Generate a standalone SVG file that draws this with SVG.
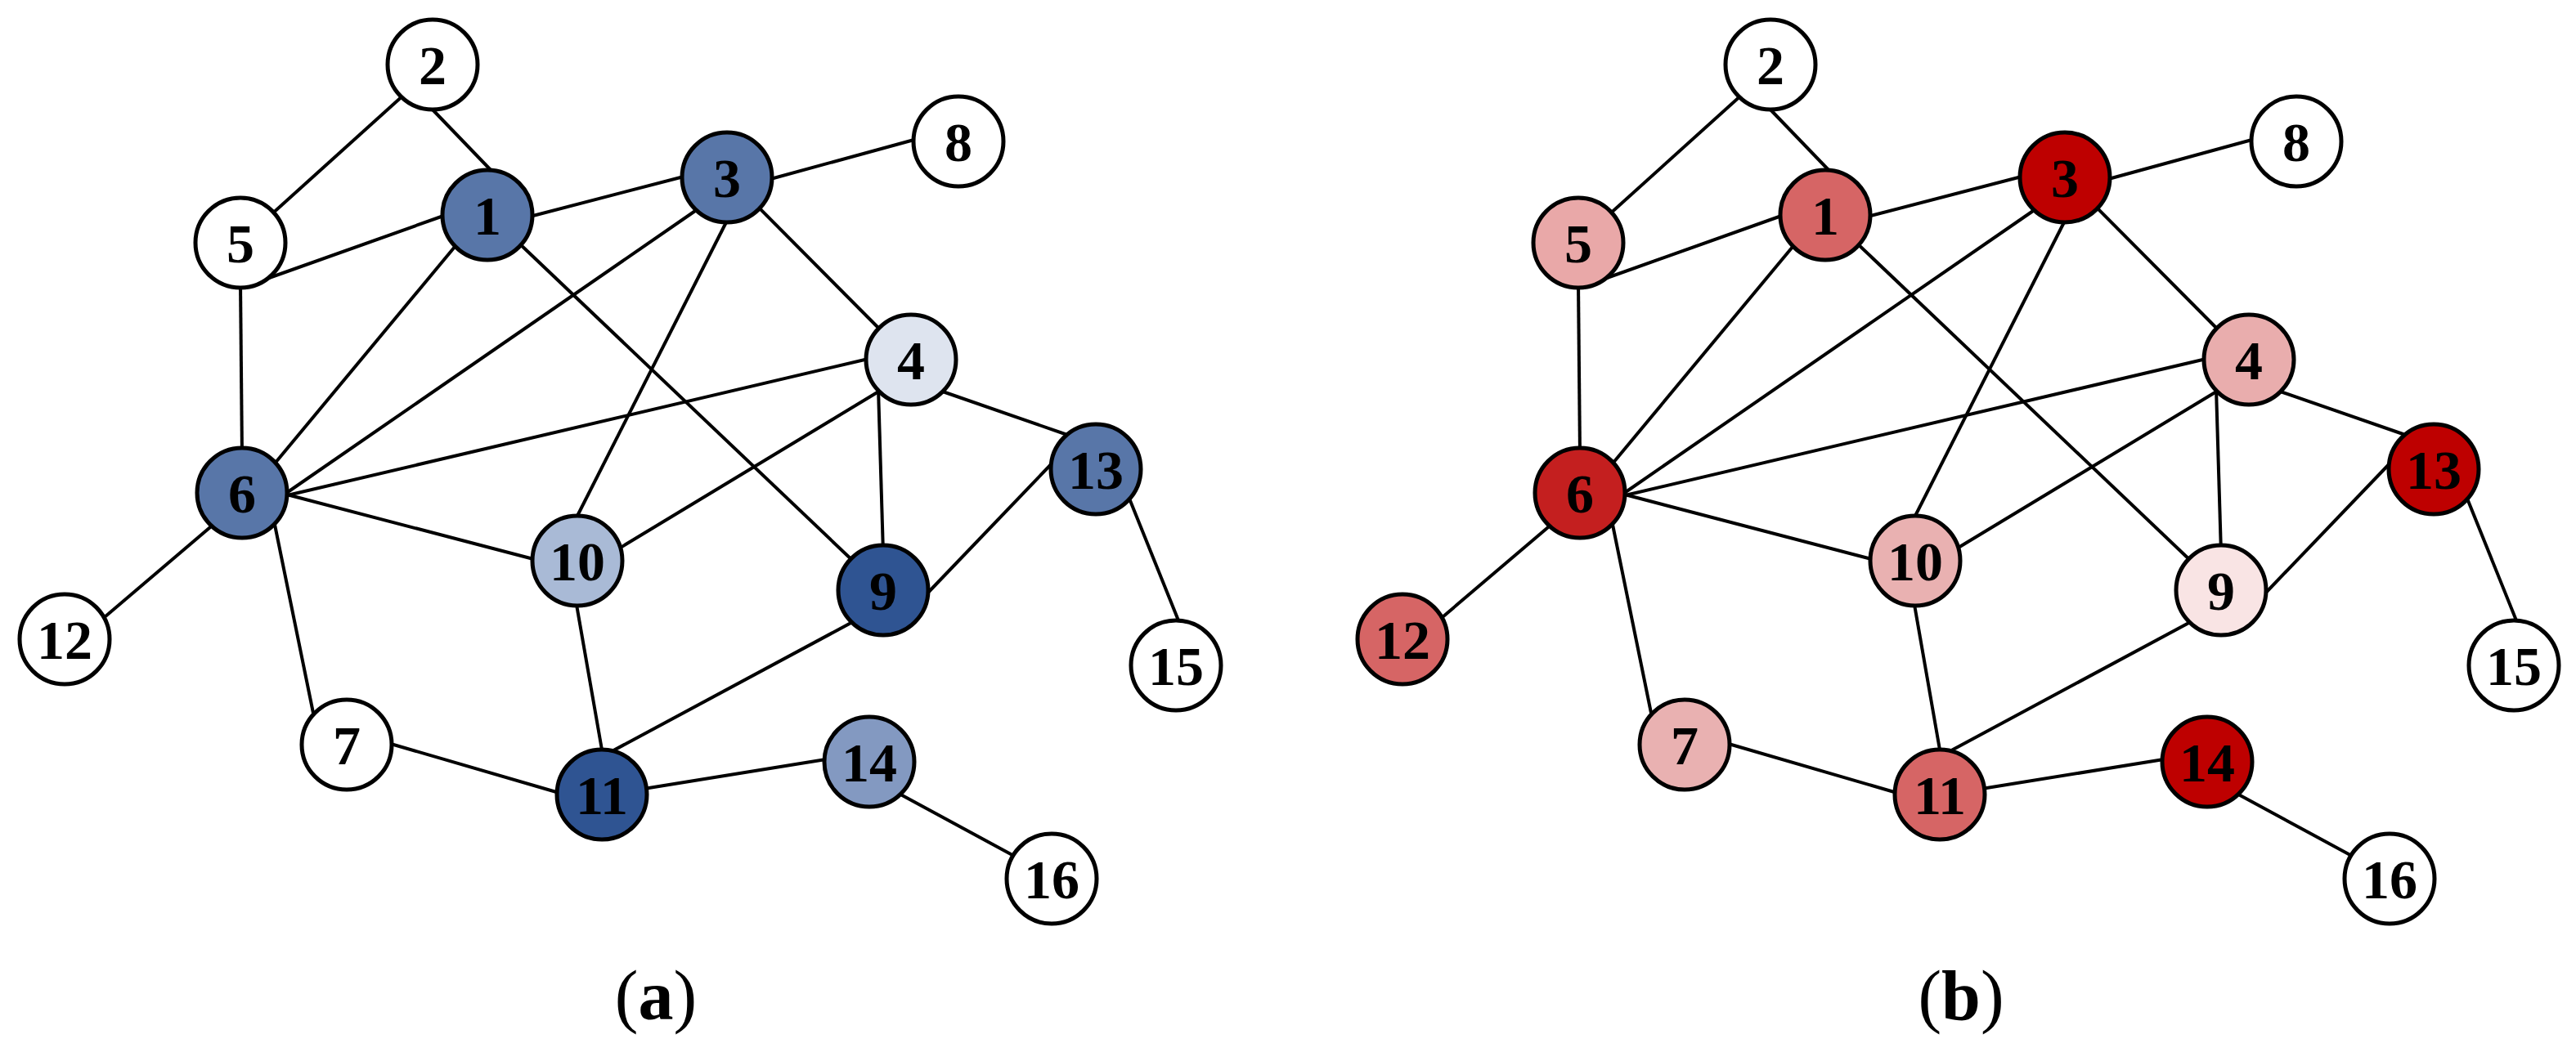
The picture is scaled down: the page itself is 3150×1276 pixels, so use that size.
<svg xmlns="http://www.w3.org/2000/svg" width="3150" height="1276" viewBox="0 0 3150 1276">
<style>
.e{stroke:#000;stroke-width:4;fill:none}
.n{stroke:#000;stroke-width:5}
.t{font-family:"Liberation Serif","Times New Roman",serif;font-weight:bold;font-size:68px;text-anchor:middle;fill:#000}
.cap{font-family:"Liberation Serif","Times New Roman",serif;font-size:86px;text-anchor:middle;fill:#000}
</style>
<defs>
<g id="edgeset">
<line x1="495" y1="115" x2="330" y2="264"/>
<line x1="525" y1="130" x2="602" y2="210"/>
<line x1="329" y1="340" x2="548" y2="262"/>
<line x1="294" y1="345" x2="296" y2="557"/>
<line x1="644" y1="266" x2="840" y2="215"/>
<line x1="935" y1="221" x2="1125" y2="169"/>
<line x1="561" y1="296" x2="331" y2="573"/>
<line x1="632" y1="295" x2="1046" y2="689"/>
<line x1="853" y1="256" x2="349" y2="604"/>
<line x1="890" y1="268" x2="703" y2="637"/>
<line x1="925" y1="251" x2="1079" y2="406"/>
<line x1="1066" y1="438" x2="347" y2="607"/>
<line x1="1081" y1="475" x2="752" y2="674"/>
<line x1="1074" y1="475" x2="1080" y2="677"/>
<line x1="1147" y1="477" x2="1311" y2="534"/>
<line x1="347" y1="604" x2="660" y2="686"/>
<line x1="263" y1="640" x2="122" y2="760"/>
<line x1="335" y1="637" x2="385" y2="882"/>
<line x1="704" y1="734" x2="737" y2="923"/>
<line x1="1131" y1="729" x2="1291" y2="562"/>
<line x1="1048" y1="758" x2="741" y2="923"/>
<line x1="471" y1="908" x2="694" y2="973"/>
<line x1="781" y1="966" x2="1016" y2="928"/>
<line x1="1094" y1="968" x2="1249" y2="1052"/>
<line x1="1379" y1="605" x2="1443" y2="764"/>
</g>
</defs>
<rect width="3150" height="1276" fill="#fff"/>
<g id="connectors" class="e">
<use href="#edgeset"/>
<use href="#edgeset" transform="translate(1636,0)"/>
</g>
<g id="a1"><circle class="n" cx="596" cy="263" r="55" fill="#5876A8"/><text class="t" x="596" y="287">1</text></g>
<g id="a2"><circle class="n" cx="529" cy="79" r="55" fill="#fff"/><text class="t" x="529" y="103">2</text></g>
<g id="a3"><circle class="n" cx="889" cy="217" r="55" fill="#5876A8"/><text class="t" x="889" y="241">3</text></g>
<g id="a4"><circle class="n" cx="1114" cy="440" r="55" fill="#DEE4EF"/><text class="t" x="1114" y="464">4</text></g>
<g id="a5"><circle class="n" cx="294" cy="297" r="55" fill="#fff"/><text class="t" x="294" y="321">5</text></g>
<g id="a6"><circle class="n" cx="296" cy="603" r="55" fill="#5876A8"/><text class="t" x="296" y="627">6</text></g>
<g id="a7"><circle class="n" cx="424" cy="911" r="55" fill="#fff"/><text class="t" x="424" y="935">7</text></g>
<g id="a8"><circle class="n" cx="1172" cy="173" r="55" fill="#fff"/><text class="t" x="1172" y="197">8</text></g>
<g id="a9"><circle class="n" cx="1080" cy="722" r="55" fill="#2F5492"/><text class="t" x="1080" y="746">9</text></g>
<g id="a10"><circle class="n" cx="706" cy="686" r="55" fill="#A9BAD6"/><text class="t" x="706" y="710">10</text></g>
<g id="a11"><circle class="n" cx="736" cy="972" r="55" fill="#2F5492"/><text class="t" x="736" y="996">11</text></g>
<g id="a12"><circle class="n" cx="79" cy="782" r="55" fill="#fff"/><text class="t" x="79" y="806">12</text></g>
<g id="a13"><circle class="n" cx="1340" cy="574" r="55" fill="#5876A8"/><text class="t" x="1340" y="598">13</text></g>
<g id="a14"><circle class="n" cx="1063" cy="932" r="55" fill="#8399C1"/><text class="t" x="1063" y="956">14</text></g>
<g id="a15"><circle class="n" cx="1438" cy="814" r="55" fill="#fff"/><text class="t" x="1438" y="838">15</text></g>
<g id="a16"><circle class="n" cx="1286" cy="1075" r="55" fill="#fff"/><text class="t" x="1286" y="1099">16</text></g>
<g id="b1"><circle class="n" cx="2232" cy="263" r="55" fill="#D66565"/><text class="t" x="2232" y="287">1</text></g>
<g id="b2"><circle class="n" cx="2165" cy="79" r="55" fill="#fff"/><text class="t" x="2165" y="103">2</text></g>
<g id="b3"><circle class="n" cx="2525" cy="217" r="55" fill="#BE0000"/><text class="t" x="2525" y="241">3</text></g>
<g id="b4"><circle class="n" cx="2750" cy="440" r="55" fill="#E9ADAD"/><text class="t" x="2750" y="464">4</text></g>
<g id="b5"><circle class="n" cx="1930" cy="297" r="55" fill="#E9A8A8"/><text class="t" x="1930" y="321">5</text></g>
<g id="b6"><circle class="n" cx="1932" cy="603" r="55" fill="#C41F1F"/><text class="t" x="1932" y="627">6</text></g>
<g id="b7"><circle class="n" cx="2060" cy="911" r="55" fill="#E9B1B1"/><text class="t" x="2060" y="935">7</text></g>
<g id="b8"><circle class="n" cx="2808" cy="173" r="55" fill="#fff"/><text class="t" x="2808" y="197">8</text></g>
<g id="b9"><circle class="n" cx="2716" cy="722" r="55" fill="#F9E4E4"/><text class="t" x="2716" y="746">9</text></g>
<g id="b10"><circle class="n" cx="2342" cy="686" r="55" fill="#E9B1B1"/><text class="t" x="2342" y="710">10</text></g>
<g id="b11"><circle class="n" cx="2372" cy="972" r="55" fill="#D66565"/><text class="t" x="2372" y="996">11</text></g>
<g id="b12"><circle class="n" cx="1715" cy="782" r="55" fill="#D66565"/><text class="t" x="1715" y="806">12</text></g>
<g id="b13"><circle class="n" cx="2976" cy="574" r="55" fill="#BE0000"/><text class="t" x="2976" y="598">13</text></g>
<g id="b14"><circle class="n" cx="2699" cy="932" r="55" fill="#BE0000"/><text class="t" x="2699" y="956">14</text></g>
<g id="b15"><circle class="n" cx="3074" cy="814" r="55" fill="#fff"/><text class="t" x="3074" y="838">15</text></g>
<g id="b16"><circle class="n" cx="2922" cy="1075" r="55" fill="#fff"/><text class="t" x="2922" y="1099">16</text></g>
<g id="captions">
<text class="cap" x="802" y="1247">(<tspan font-weight="bold">a</tspan>)</text>
<text class="cap" x="2398" y="1247">(<tspan font-weight="bold">b</tspan>)</text>
</g>
</svg>
